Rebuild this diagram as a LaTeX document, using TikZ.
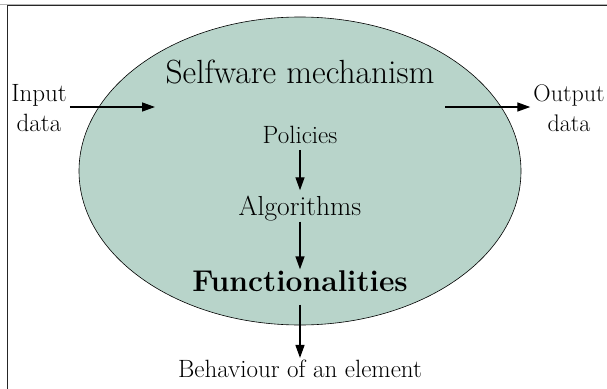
\documentclass[tikz,border=0pt]{standalone}
\usepackage{fontspec}
\usetikzlibrary{arrows.meta}
\definecolor{ellfill}{HTML}{B8D4CA}
\tikzset{
  arr/.style={line width=1.4pt,-{Triangle[length=13pt,width=9pt]}},
  lbl/.style={inner sep=0pt,align=center},
}
\begin{document}
\begin{tikzpicture}[x=1pt,y=-1pt]
\useasboundingbox (0,0) rectangle (607,388);
\fill[white] (0,0) rectangle (607,388);
\draw[gray!60,line width=0.8pt] (0,4) -- (607,4);
\draw[black!85,line width=1.3pt] (7.3,5.5) rectangle (640,420);
\draw[fill=ellfill,line width=0.6pt] (300,171) ellipse [x radius=221,y radius=154];
\node[lbl,font=\fontsize{33.5}{40}\selectfont] (title) at (300,72) {Selfware mechanism};
\node[lbl,font=\fontsize{25}{30}\selectfont] (pol) at (300,135) {Policies};
\node[lbl,font=\fontsize{27.5}{33}\selectfont] (alg) at (300,209) {Algorithms};
\node[lbl,font=\fontsize{30}{36}\selectfont\bfseries] (fun) at (300,281) {Functionalities};
\node[lbl,font=\fontsize{25}{30}\selectfont] (beh) at (300,369) {Behaviour of an element};
\node[lbl,font=\fontsize{25}{30}\selectfont] (inp) at (39,108) {Input\\data};
\node[lbl,font=\fontsize{24}{30}\selectfont] (outp) at (569,108) {Output\\data};
\coordinate (inA) at (155,107);
\coordinate (outA) at (445,107);
\draw[arr] (inp.east |- inA) ++(3,0) coordinate (inS) -- (inA);
\draw[arr] (outA) -- ([xshift=-3pt]outp.west |- outA);
\draw[arr,shorten <=6pt,shorten >=6pt] (pol.south) -- (alg.north);
\draw[arr,shorten <=0pt,shorten >=1pt] (alg.south) -- (fun.north);
\draw[arr,shorten <=13pt,shorten >=2pt] (fun.south) -- (beh.north);
\end{tikzpicture}
\end{document}
